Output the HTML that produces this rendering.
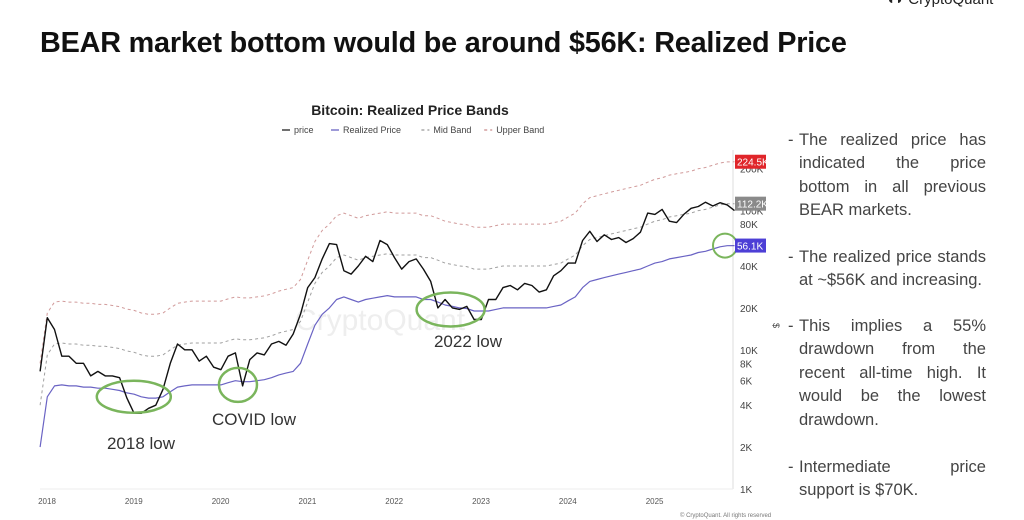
<!DOCTYPE html>
<html><head><meta charset="utf-8">
<style>
body{margin:0;background:#fff;width:1024px;height:520px;overflow:hidden;position:relative;font-family:"Liberation Sans",sans-serif}
#title{position:absolute;left:40px;top:27px;font-size:28.8px;font-weight:bold;color:#111;letter-spacing:-0.2px;white-space:nowrap}
#logo{position:absolute;left:886px;top:-9px;font-size:15px;color:#222}
.para{position:absolute;left:786px;width:200px;font-size:16.5px;line-height:23.4px;color:#444}
.para .d{position:absolute;left:2px;top:0}
.para .l{margin-left:13px;white-space:nowrap;text-align:justify;text-align-last:justify}
.para .l.e{text-align-last:left}
</style></head><body>
<div id="title">BEAR market bottom would be around $56K: Realized Price</div>
<div id="logo">◖◗ CryptoQuant</div>
<div class="para" style="top:129px"><span class="d">-</span><div class="l">The realized price has</div><div class="l">indicated the price</div><div class="l">bottom in all previous</div><div class="l e">BEAR markets.</div></div>
<div class="para" style="top:246px"><span class="d">-</span><div class="l">The realized price stands</div><div class="l e">at ~$56K and increasing.</div></div>
<div class="para" style="top:315px"><span class="d">-</span><div class="l">This implies a 55%</div><div class="l">drawdown from the</div><div class="l">recent all-time high. It</div><div class="l">would be the lowest</div><div class="l e">drawdown.</div></div>
<div class="para" style="top:456px"><span class="d">-</span><div class="l">Intermediate price</div><div class="l e">support is $70K.</div></div>
<svg id="chart" width="1024" height="520" style="position:absolute;left:0;top:0"></svg>
<script>
const startYear=2017.92;
const priceK=[7,17,14,9,9,8,8,6.5,7,6.5,6.5,6.3,4.5,3.5,3.5,3.8,4,5.2,8,11,10,10,8.3,9,7.5,7.2,9,9.5,5.5,8.5,9.5,9.2,11,11.5,10.8,13,18,28,33,45,58,57,37,35,40,47,43,61,57,46,38,43,45,38,31,20,23,20,19.5,20.5,16.5,16.5,23,23,28,29,27,30,29,26,27,34,37,42,42,61,71,60,67,62,64,59,63,70,96,94,102,84,82,94,104,107,115,108,114,110,100];
const realizedK=[2,4.6,5.5,5.6,5.5,5.5,5.4,5.4,5.3,5.3,5.2,5.1,4.9,4.8,4.6,4.5,4.5,4.6,5,5.4,5.5,5.6,5.6,5.6,5.6,5.6,5.8,6,5.9,5.9,6,6.1,6.3,6.6,6.8,7,8,11,15,18,20,23,24,23,22,23,23.5,24,24.5,24,24,24,24,23,23,22,21,20.5,20,19.8,19,19,19,19.5,20,20,20,20,20,20,20,20.5,21,22.5,24,28,31,32,33,34,35,36,37,38,40,42,43,45,46,47,48,50,51,53,55,56,56.1];
const midMult=2, upperMult=4;
const yTicks=[1,2,4,6,8,10,20,40,80,100,200];
const yTickLabels=["1K","2K","4K","6K","8K","10K","20K","40K","80K","100K","200K"];
const xYears=[2018,2019,2020,2021,2022,2023,2024,2025];
const annotations=[{label:"2018 low",yr:2019.0,v:4.6,rx:37,ry:16,tx:141,ty:449},{label:"COVID low",yr:2020.2,v:5.6,rx:19,ry:17,tx:254,ty:425},{label:"2022 low",yr:2022.65,v:19.5,rx:34,ry:17,tx:468,ty:347}];
const lastLabels=[{txt:"224.5K",v:224.5,c:"#e0252a"},{txt:"112.2K",v:112.2,c:"#8a8a8a"},{txt:"56.1K",v:56.1,c:"#4d3fd6"}];
const NS="http://www.w3.org/2000/svg",svg=document.getElementById('chart');
const X=yr=>47+(yr-2018)*86.8;
const Y=v=>489-Math.log2(v)*41.9;
function mk(t,a,p){const e=document.createElementNS(NS,t);for(const k in a)e.setAttribute(k,a[k]);(p||svg).appendChild(e);return e;}
let e;
e=mk('text',{x:410,y:115,'text-anchor':'middle','font-size':14,'font-weight':'bold',fill:'#222'});e.textContent="Bitcoin: Realized Price Bands";


const leg=[["price","#222",""],["Realized Price","#6a63c4",""],["Mid Band","#999","3,3"],["Upper Band","#c98a8a","3,3"]];
let lx=282;
leg.forEach(l=>{const g=mk('g',{});


mk('line',{x1:lx,y1:130,x2:lx+8,y2:130,stroke:l[1],'stroke-width':1.3,'stroke-dasharray':l[2]},g);
const t=mk('text',{x:lx+12,y:133,'font-size':9,fill:'#444'},g);t.textContent=l[0];lx+=12+l[0].length*4.6+14;});
e=mk('text',{x:380,y:330,'text-anchor':'middle','font-size':30,fill:'#eee'});e.textContent="CryptoQuant";


mk('line',{x1:733,y1:150,x2:733,y2:489,stroke:'#ddd'});
mk('line',{x1:40,y1:489,x2:733,y2:489,stroke:'#eee'});
yTicks.forEach((v,i)=>{e=mk('text',{x:740,y:Y(v)+4,'font-size':10,fill:'#444'});e.textContent=yTickLabels[i];

});
e=mk('text',{x:773,y:323,'font-size':9,fill:'#444',transform:'rotate(90 773 323)'});e.textContent="$";
xYears.forEach(yr=>{e=mk('text',{x:X(yr),y:504,'font-size':8,fill:'#555','text-anchor':'middle'});e.textContent=yr;

});
function line(arr,mult,stroke,dash,w,name){const d=arr.map((v,i)=>(i?'L':'M')+X(startYear+i/12).toFixed(1)+','+Y(v*mult).toFixed(1)).join('');
const p=mk('path',{d,fill:'none',stroke,'stroke-width':w,'stroke-dasharray':dash,'stroke-linejoin':'round'});

}
line(realizedK,upperMult,'#d19a9a','3,3',1,'upper-band-line');
line(realizedK,midMult,'#a0a0a0','3,3',1,'mid-band-line');
line(realizedK,1,'#6a63c4','',1.2,'realized-price-line');
line(priceK,1,'#111','',1.4,'price-line');
annotations.forEach(a=>{e=mk('ellipse',{cx:X(a.yr),cy:Y(a.v),rx:a.rx,ry:a.ry,fill:'none',stroke:'#7ab55c','stroke-width':2.5});


const t=mk('text',{x:a.tx,y:a.ty,'font-size':17,fill:'#333','text-anchor':'middle'});t.textContent=a.label;

});
e=mk('ellipse',{cx:725,cy:Y(56.1),rx:12,ry:12,fill:'none',stroke:'#7ab55c','stroke-width':2});


lastLabels.forEach(l=>{const g=mk('g',{});


const y=Y(l.v);mk('rect',{x:735,y:y-7,width:31,height:14,fill:l.c},g);
const t=mk('text',{x:737,y:y+4,'font-size':10,fill:'#fff'},g);t.textContent=l.txt;});
e=mk('text',{x:680,y:517,'font-size':6,fill:'#777'});e.textContent="© CryptoQuant. All rights reserved";


</script>
</body></html>
